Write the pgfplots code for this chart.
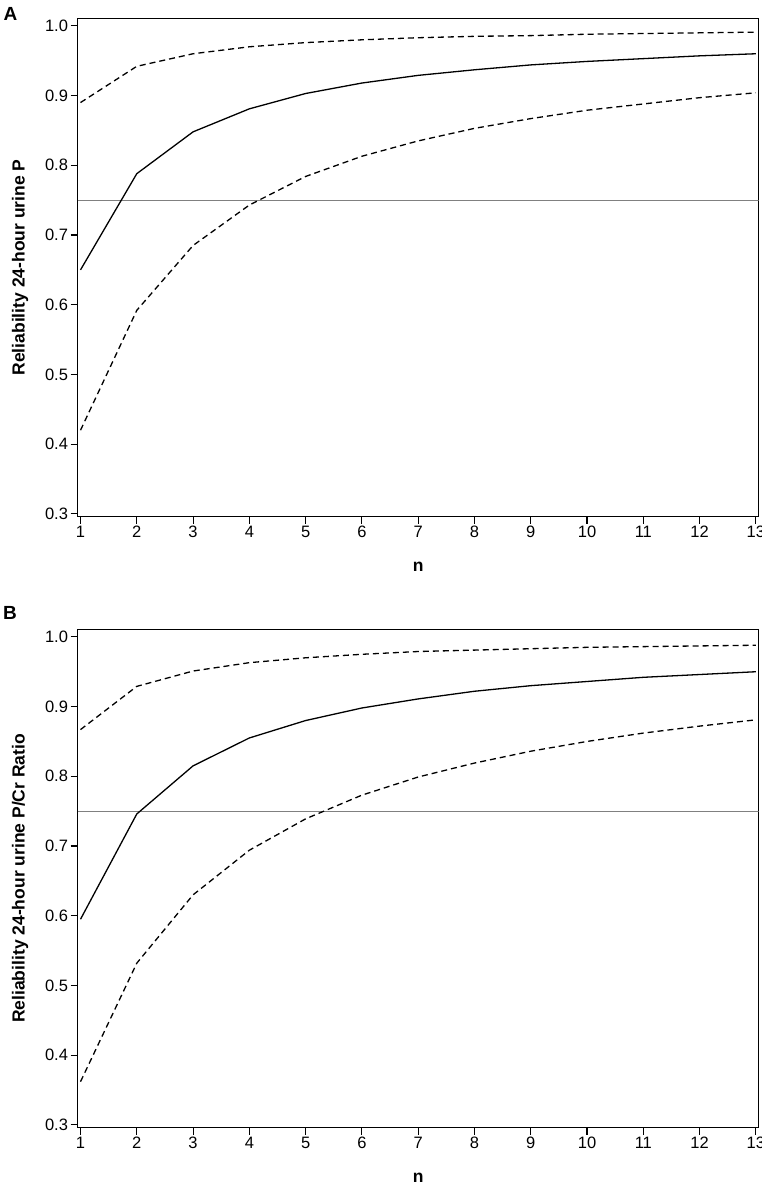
\documentclass[border=0pt]{standalone}
\usepackage{fontspec}
\setmainfont{Liberation Sans}
\usepackage{pgfplots}
\pgfplotsset{compat=1.18}

% one series per table: n, estimate, lower, upper
\pgfplotstableread{
n  est    lo     up
1  0.650  0.420  0.890
2  0.788  0.592  0.942
3  0.848  0.685  0.960
4  0.881  0.743  0.970
5  0.903  0.784  0.976
6  0.918  0.813  0.980
7  0.929  0.835  0.983
8  0.937  0.853  0.985
9  0.944  0.867  0.986
10 0.949  0.879  0.988
11 0.953  0.888  0.989
12 0.957  0.897  0.990
13 0.960  0.904  0.991
}\dataA

\pgfplotstableread{
n  est    lo     up
1  0.595  0.362  0.867
2  0.746  0.532  0.929
3  0.815  0.630  0.951
4  0.855  0.694  0.963
5  0.880  0.739  0.970
6  0.898  0.773  0.975
7  0.911  0.799  0.979
8  0.922  0.819  0.981
9  0.930  0.836  0.983
10 0.936  0.850  0.985
11 0.942  0.862  0.986
12 0.946  0.872  0.987
13 0.950  0.881  0.988
}\dataB

\pgfplotsset{
  relpanel/.style={
    scale only axis,
    width=681pt, height=498.5pt,
    xmin=0.95, xmax=13.05,
    ymin=0.296, ymax=1.011,
    xtick={1,...,13},
    ytick={0.3,0.4,...,1.0},
    yticklabel style={/pgf/number format/.cd,fixed,fixed zerofill,precision=1},
    /pgf/number format/assume math mode=true,
    tick pos=left,
    tick align=outside,
    major tick length=7pt,
    every tick/.style={black, line width=1.1pt},
    axis line style={line width=1.2pt},
    tick label style={font=\fontsize{16.5}{18}\selectfont, inner sep=2.5pt},
    label style={font=\fontsize{17.5}{20}\selectfont\bfseries},
    xlabel={n},
    xlabel style={at={(axis description cs:0.5,-0.1)}, anchor=center},
    ylabel style={at={(axis description cs:-0.0847,0.5)}, anchor=center, rotate=0},
    clip=true,
  },
  est/.style={black, line width=1.3pt},
  ci/.style={black, line width=1.3pt, dash pattern=on 6pt off 4pt},
  ref/.style={gray, line width=1pt},
}

\begin{document}
\begin{tikzpicture}
\useasboundingbox (-77.7pt,-667.3pt) rectangle (684.3pt,516.7pt);

\begin{axis}[relpanel, at={(0pt,0pt)}, ylabel={Reliability 24-hour urine P}]
  \addplot[ref] coordinates {(0.95,0.75) (13.05,0.75)};
  \addplot[ci] table[x=n,y=up] {\dataA};
  \addplot[est] table[x=n,y=est] {\dataA};
  \addplot[ci] table[x=n,y=lo] {\dataA};
\end{axis}
\node[font=\fontsize{19}{21}\selectfont\bfseries] at (-67.2pt,503.2pt) {A};

\begin{axis}[relpanel, at={(0pt,-611pt)}, ylabel={Reliability 24-hour urine P/Cr Ratio}]
  \addplot[ref] coordinates {(0.95,0.75) (13.05,0.75)};
  \addplot[ci] table[x=n,y=up] {\dataB};
  \addplot[est] table[x=n,y=est] {\dataB};
  \addplot[ci] table[x=n,y=lo] {\dataB};
\end{axis}
\node[font=\fontsize{19}{21}\selectfont\bfseries] at (-67.7pt,-95.8pt) {B};
\end{tikzpicture}
\end{document}
